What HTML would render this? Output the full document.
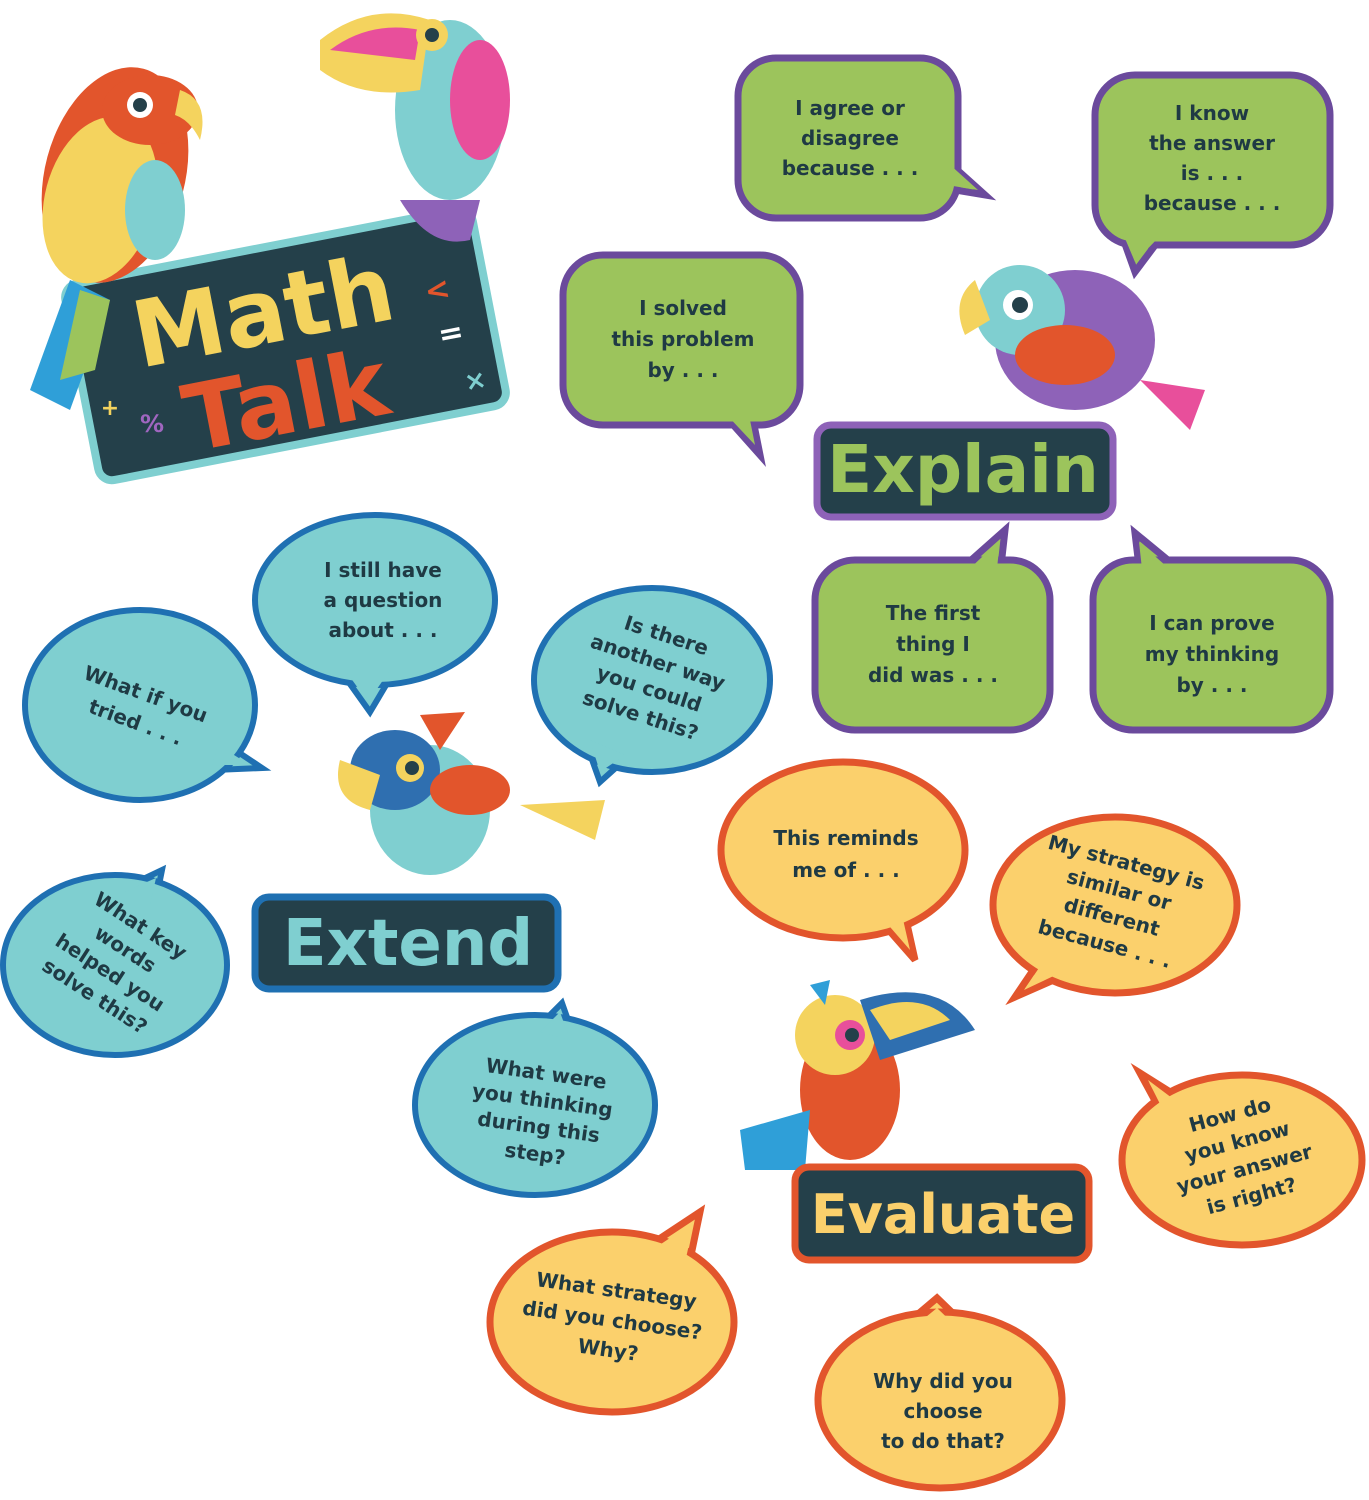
<!DOCTYPE html>
<html><head><meta charset="utf-8"><style>
html,body{margin:0;padding:0;background:#fff;}
svg{display:block;}
text{font-family:"DejaVu Sans","Liberation Sans",sans-serif;font-weight:bold;fill:#1f3a44;text-anchor:middle;}
.g{fill:#9cc45c;stroke:#6b4a9c;stroke-width:7;}
.t{fill:#7fcfd0;stroke:#1f70b2;stroke-width:6;}
.y{fill:#fbd06c;stroke:#e2552c;stroke-width:7;}
.gn{fill:#9cc45c;}
.tn{fill:#7fcfd0;}
.yn{fill:#fbd06c;}
.s{font-size:20px;}
</style></head><body>
<svg width="1369" height="1500" viewBox="0 0 1369 1500" xmlns="http://www.w3.org/2000/svg">

<!-- Math Talk sign -->
<g transform="rotate(-11 285 345)">
<rect x="78" y="245" width="415" height="200" rx="14" fill="#24404a" stroke="#7fcfd0" stroke-width="8"/>
<text x="270" y="340" style="font-size:92px;fill:#f4d35e;font-family:'DejaVu Sans',sans-serif" >Math</text>
<text x="275" y="432" style="font-size:92px;fill:#e2552c">Talk</text>
<text x="445" y="330" style="font-size:30px;fill:#e2552c">&lt;</text>
<text x="450" y="375" style="font-size:30px;fill:#fff">=</text>
<text x="465" y="425" style="font-size:26px;fill:#7fcfd0">×</text>
</g>
<text x="110" y="415" style="font-size:22px;fill:#f4d35e">+</text>
<text x="152" y="432" style="font-size:24px;fill:#a066c0">%</text>

<!-- parrot left -->
<ellipse cx="115" cy="175" rx="70" ry="110" fill="#e2552c" transform="rotate(15 115 175)"/>
<ellipse cx="100" cy="200" rx="55" ry="85" fill="#f4d35e" transform="rotate(15 100 200)"/>
<ellipse cx="150" cy="110" rx="48" ry="35" fill="#e2552c"/>
<circle cx="140" cy="105" r="13" fill="#fff"/><circle cx="140" cy="105" r="7" fill="#24404a"/>
<path d="M180 90 Q210 100 200 140 Q190 120 175 115Z" fill="#f4d35e"/>
<path d="M70 280 L30 390 L70 410 L110 300Z" fill="#2f9fd8"/>
<path d="M80 290 L60 380 L95 370 L110 300Z" fill="#9cc45c"/>
<ellipse cx="155" cy="210" rx="30" ry="50" fill="#7fcfd0"/>

<!-- toucan top -->
<ellipse cx="450" cy="110" rx="55" ry="90" fill="#7fcfd0"/>
<path d="M320 40 Q370 0 430 20 L420 90 Q360 100 320 70Z" fill="#f4d35e"/>
<path d="M330 50 Q370 20 420 30 L415 60 Z" fill="#e84f9b"/>
<circle cx="432" cy="35" r="16" fill="#f4d35e"/><circle cx="432" cy="35" r="7" fill="#24404a"/>
<ellipse cx="480" cy="100" rx="30" ry="60" fill="#e84f9b"/>
<path d="M400 200 Q430 250 470 240 L480 200Z" fill="#8e62b8"/>

<!-- Green bubbles -->
<g>
<polygon points="935,150 985,195 925,185" class="g"/>
<rect x="738" y="58" width="220" height="160" rx="38" class="g"/>
<polygon points="938,154 978,190 928,182" class="gn"/>
<text class="s" x="850" y="115">I agree or</text>
<text class="s" x="850" y="145">disagree</text>
<text class="s" x="850" y="175">because . . .</text>
</g>
<g>
<polygon points="1120,230 1135,272 1165,232" class="g"/>
<rect x="1095" y="75" width="235" height="170" rx="40" class="g"/>
<polygon points="1124,236 1135,262 1160,236" class="gn"/>
<text class="s" x="1212" y="120">I know</text>
<text class="s" x="1212" y="150">the answer</text>
<text class="s" x="1212" y="180">is . . .</text>
<text class="s" x="1212" y="210">because . . .</text>
</g>
<g>
<polygon points="720,410 760,455 750,405" class="g"/>
<rect x="563" y="255" width="237" height="170" rx="40" class="g"/>
<polygon points="724,412 755,445 748,410" class="gn"/>
<text class="s" x="683" y="315">I solved</text>
<text class="s" x="683" y="346">this problem</text>
<text class="s" x="683" y="377">by . . .</text>
</g>
<g>
<polygon points="960,570 1005,530 1000,575" class="g"/>
<rect x="815" y="560" width="235" height="170" rx="40" class="g"/>
<polygon points="964,574 1000,540 996,578" class="gn"/>
<text class="s" x="933" y="620">The first</text>
<text class="s" x="933" y="651">thing I</text>
<text class="s" x="933" y="682">did was . . .</text>
</g>
<g>
<polygon points="1135,533 1140,575 1180,570" class="g"/>
<rect x="1093" y="560" width="237" height="170" rx="40" class="g"/>
<polygon points="1139,542 1143,578 1175,574" class="gn"/>
<text class="s" x="1212" y="630">I can prove</text>
<text class="s" x="1212" y="661">my thinking</text>
<text class="s" x="1212" y="692">by . . .</text>
</g>

<!-- Explain bird -->
<ellipse cx="1075" cy="340" rx="80" ry="70" fill="#8e62b8"/>
<ellipse cx="1020" cy="310" rx="45" ry="45" fill="#7fcfd0"/>
<circle cx="1018" cy="305" r="15" fill="#fff"/><circle cx="1020" cy="305" r="8" fill="#24404a"/>
<path d="M975 280 Q950 300 965 335 L990 320Z" fill="#f4d35e"/>
<ellipse cx="1065" cy="355" rx="50" ry="30" fill="#e2552c"/>
<path d="M1140 380 L1205 390 L1190 430 Z" fill="#e84f9b"/>
<!-- Explain label -->
<rect x="817" y="425" width="296" height="92" rx="14" fill="#24404a" stroke="#8e62b8" stroke-width="7"/>
<text x="963" y="492" style="font-size:66px;fill:#9cc45c">Explain</text>

<!-- Teal clouds -->
<g>
<polygon points="340,670 370,712 395,670" class="t"/>
<ellipse cx="375" cy="600" rx="120" ry="85" class="t"/>
<polygon points="345,670 368,702 390,670" class="tn"/>
<text class="s" x="383" y="577">I still have</text>
<text class="s" x="383" y="607">a question</text>
<text class="s" x="383" y="637">about . . .</text>
</g>
<g>
<polygon points="220,740 262,768 215,770" class="t"/>
<ellipse cx="140" cy="705" rx="115" ry="95" class="t"/>
<polygon points="218,745 250,765 212,765" class="tn"/>
<g transform="rotate(20 140 710)">
<text class="s" x="140" y="700">What if you</text>
<text class="s" x="140" y="730">tried . . .</text></g>
</g>
<g>
<polygon points="585,740 600,782 630,755" class="t"/>
<ellipse cx="652" cy="680" rx="118" ry="92" class="t"/>
<polygon points="590,740 600,772 625,755" class="tn"/>
<g transform="rotate(18 652 680)">
<text class="s" x="652" y="640">Is there</text>
<text class="s" x="652" y="668">another way</text>
<text class="s" x="652" y="696">you could</text>
<text class="s" x="652" y="724">solve this?</text></g>
</g>
<g>
<polygon points="120,890 162,870 155,905" class="t"/>
<ellipse cx="115" cy="965" rx="112" ry="90" class="t"/>
<polygon points="124,892 156,878 150,905" class="tn"/>
<g transform="rotate(33 115 965)">
<text class="s" x="115" y="925">What key</text>
<text class="s" x="115" y="953">words</text>
<text class="s" x="115" y="981">helped you</text>
<text class="s" x="115" y="1009">solve this?</text></g>
</g>
<g>
<polygon points="535,1030 562,1003 575,1040" class="t"/>
<ellipse cx="535" cy="1105" rx="120" ry="90" class="t"/>
<polygon points="540,1032 560,1012 570,1040" class="tn"/>
<g transform="rotate(8 540 1118)">
<text class="s" x="540" y="1080">What were</text>
<text class="s" x="540" y="1107">you thinking</text>
<text class="s" x="540" y="1134">during this</text>
<text class="s" x="540" y="1161">step?</text></g>
</g>

<!-- Extend bird -->
<ellipse cx="430" cy="810" rx="60" ry="65" fill="#7fcfd0"/>
<ellipse cx="395" cy="770" rx="45" ry="40" fill="#2f6fb0"/>
<circle cx="410" cy="768" r="14" fill="#f4d35e"/><circle cx="412" cy="768" r="7" fill="#24404a"/>
<path d="M340 760 Q330 800 370 810 L380 775Z" fill="#f4d35e"/>
<ellipse cx="470" cy="790" rx="40" ry="25" fill="#e2552c"/>
<path d="M520 805 L605 800 L595 840 Z" fill="#f4d35e"/>
<path d="M420 715 L465 712 L440 750Z" fill="#e2552c"/>
<!-- Extend label -->
<rect x="255" y="897" width="303" height="92" rx="14" fill="#24404a" stroke="#1f70b2" stroke-width="7"/>
<text x="408" y="965" style="font-size:64px;fill:#7fcfd0">Extend</text>

<!-- Yellow ovals -->
<g>
<polygon points="880,920 915,960 905,915" class="y"/>
<ellipse cx="843" cy="850" rx="122" ry="88" class="y"/>
<polygon points="884,920 910,950 902,915" class="yn"/>
<text class="s" x="846" y="845">This reminds</text>
<text class="s" x="846" y="877">me of . . .</text>
</g>
<g>
<polygon points="1040,960 1015,997 1065,975" class="y"/>
<ellipse cx="1115" cy="905" rx="122" ry="88" class="y"/>
<polygon points="1043,962 1024,990 1062,972" class="yn"/>
<g transform="rotate(15 1115 905)">
<text class="s" x="1115" y="868">My strategy is</text>
<text class="s" x="1115" y="896">similar or</text>
<text class="s" x="1115" y="924">different</text>
<text class="s" x="1115" y="952">because . . .</text></g>
</g>
<g>
<polygon points="1140,1073 1175,1095 1160,1110" class="y"/>
<ellipse cx="1242" cy="1160" rx="120" ry="85" class="y"/>
<polygon points="1148,1080 1172,1098 1162,1108" class="yn"/>
<g transform="rotate(-15 1242 1160)">
<text class="s" x="1242" y="1120">How do</text>
<text class="s" x="1242" y="1148">you know</text>
<text class="s" x="1242" y="1176">your answer</text>
<text class="s" x="1242" y="1204">is right?</text></g>
</g>
<g>
<polygon points="650,1245 700,1212 690,1260" class="y"/>
<ellipse cx="612" cy="1322" rx="122" ry="90" class="y"/>
<polygon points="655,1248 694,1222 686,1258" class="yn"/>
<g transform="rotate(8 612 1322)">
<text class="s" x="612" y="1297">What strategy</text>
<text class="s" x="612" y="1327">did you choose?</text>
<text class="s" x="612" y="1357">Why?</text></g>
</g>
<g>
<polygon points="905,1325 937,1298 965,1325" class="y"/>
<ellipse cx="940" cy="1400" rx="122" ry="88" class="y"/>
<polygon points="910,1330 937,1308 960,1330" class="yn"/>
<text class="s" x="943" y="1388">Why did you</text>
<text class="s" x="943" y="1418">choose</text>
<text class="s" x="943" y="1448">to do that?</text>
</g>

<!-- Evaluate bird -->
<ellipse cx="850" cy="1090" rx="50" ry="70" fill="#e2552c"/>
<ellipse cx="835" cy="1035" rx="40" ry="40" fill="#f4d35e"/>
<circle cx="850" cy="1035" r="15" fill="#e84f9b"/><circle cx="852" cy="1035" r="7" fill="#24404a"/>
<path d="M860 1000 Q940 975 975 1030 L880 1060Z" fill="#2f6fb0"/>
<path d="M870 1010 Q920 990 950 1020 L890 1040Z" fill="#f4d35e"/>
<path d="M740 1130 L810 1110 L805 1170 L745 1170Z" fill="#2f9fd8"/>
<path d="M810 985 L830 980 L825 1005Z" fill="#2f9fd8"/>
<!-- Evaluate label -->
<rect x="795" y="1167" width="294" height="93" rx="14" fill="#24404a" stroke="#e2552c" stroke-width="7"/>
<text x="943" y="1233" style="font-size:54px;fill:#fbd06c">Evaluate</text>

</svg>
</body></html>
